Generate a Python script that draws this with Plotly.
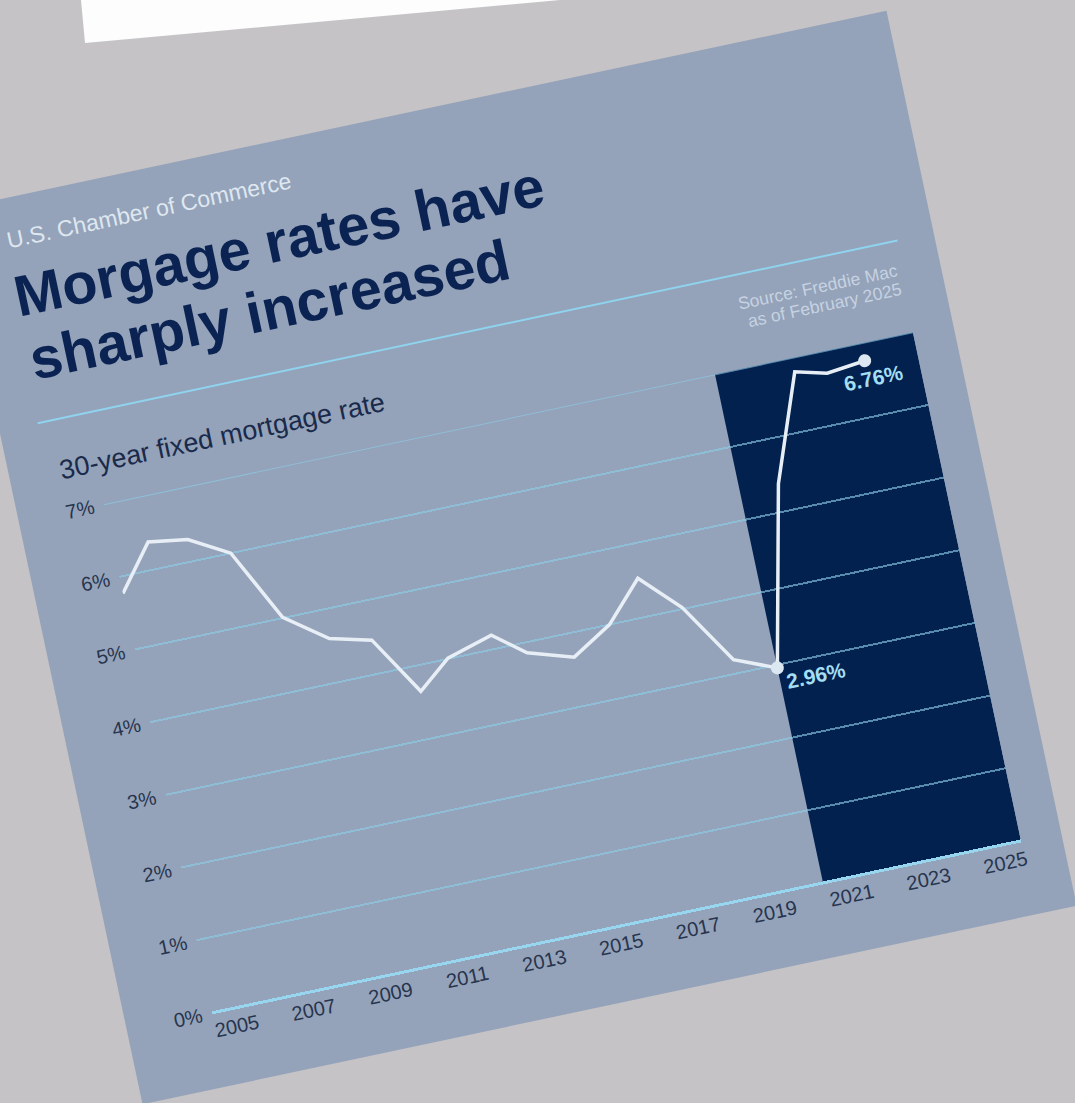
import plotly.graph_objects as go

# ---------------- data ----------------
years = [2004.45, 2005.35, 2006.35, 2007.35, 2008.3, 2009.35, 2010.4, 2011.35,
         2012.2, 2013.4, 2014.2, 2015.35, 2016.4, 2017.35, 2018.3, 2019.3,
         2020.35, 2021.35, 2022.35, 2023.15, 2024.15]
rates = [5.77, 6.38, 6.30, 6.00, 5.01, 4.60, 4.46, 3.65, 4.01, 4.19, 3.86, 3.67,
         4.00, 4.53, 4.02, 3.19, 2.96, 5.38, 6.81, 6.70, 6.76]
callout_index = [16, 20]          # points labelled 2.96% and 6.76%
year_ticks = [2005, 2007, 2009, 2011, 2013, 2015, 2017, 2019, 2021, 2023, 2025]
year_labels = ["2005", "2007", "2009", "2011", "2013", "2015", "2017", "2019",
               "2021", "2023", "2025"]
pct_ticks = [0, 1, 2, 3, 4, 5, 6, 7]
pct_labels = ["0%", "1%", "2%", "3%", "4%", "5%", "6%", "7%"]

publisher = "U.S. Chamber of Commerce"
title_lines = ["Morgage rates have", "sharply increased"]
subtitle = "30-year fixed mortgage rate"
source_lines = ["Source: Freddie Mac", "as of February 2025"]

# ---------------- layout geometry ----------------
W, H = 955, 915
L, R, T, B = 87, 41, 320, 75
PW, PH = W - L - R, H - T - B
X_RANGE = [2004.45, 2025.5]
Y_RANGE = [0, 7]

FONT = "Liberation Sans, Arial, sans-serif"
CARD = "#94a3b9"
NAVY = "#03214f"
TITLE_NAVY = "#0b2352"
AXIS_TXT = "#27344e"
GRID = "rgba(140,205,232,0.62)"


def px(x):
    return (x - L) / PW


def py(y):
    return (H - B - y) / PH


fig = go.Figure()

fig.add_trace(go.Scatter(
    x=years, y=rates, mode="lines",
    line=dict(color="#e8eef6", width=3.5),
    hoverinfo="skip", showlegend=False))

fig.add_trace(go.Scatter(
    x=[years[i] for i in callout_index], y=[rates[i] for i in callout_index],
    mode="markers", marker=dict(size=13, color="#dce8f1"),
    hoverinfo="skip", showlegend=False))

annotations = []
offsets = {16: (36, -15), 20: (5, -19)}
for i in callout_index:
    dx, dy = offsets[i]
    annotations.append(dict(
        x=years[i], y=rates[i], xref="x", yref="y", text=f"{rates[i]:.2f}%",
        showarrow=False, xanchor="center", yanchor="middle", xshift=dx, yshift=dy,
        font=dict(family=FONT, size=21, color="#a3def3", weight="bold")))


def text_ann(text, x, y, size, color, anchor="left", bold=False):
    annotations.append(dict(
        x=px(x), y=py(y), xref="paper", yref="paper", text=text, showarrow=False,
        xanchor=anchor, yanchor="middle",
        font=dict(family=FONT, size=size, color=color,
                  weight="bold" if bold else "normal")))


text_ann(publisher, 45, 42, 23, "#dfe7f0")
text_ann(title_lines[0], 41, 99, 57.5, TITLE_NAVY, bold=True)
text_ann(title_lines[1], 43, 164, 57.5, TITLE_NAVY, bold=True)
text_ann(subtitle, 49, 277.5, 27, "#1a2a4b")
text_ann(source_lines[0], 914, 256, 17.5, "#c6d2e2", anchor="right")
text_ann(source_lines[1], 914, 275, 17.5, "#c6d2e2", anchor="right")

shapes = [
    dict(type="rect", xref="x", yref="y", x0=years[callout_index[0]], x1=X_RANGE[1],
         y0=Y_RANGE[0], y1=Y_RANGE[1], fillcolor=NAVY, line=dict(width=0), layer="below"),
    dict(type="line", xref="paper", yref="y", x0=0, x1=1,
         y0=pct_ticks[-1], y1=pct_ticks[-1], line=dict(color=GRID, width=2)),
    dict(type="line", xref="paper", yref="paper", x0=px(39), x1=px(918),
         y0=py(227), y1=py(227), line=dict(color="#8fd3ee", width=2)),
]

fig.update_layout(
    width=W, height=H,
    margin=dict(l=L, r=R, t=T, b=B, pad=0),
    paper_bgcolor=CARD, plot_bgcolor=CARD,
    font=dict(family=FONT),
    annotations=annotations, shapes=shapes,
    xaxis=dict(range=X_RANGE, tickmode="array", tickvals=year_ticks, ticktext=year_labels,
               showgrid=False, zeroline=False, showline=False, ticks="",
               tickfont=dict(family=FONT, size=20, color=AXIS_TXT),
               ticklabelstandoff=4, fixedrange=True),
    yaxis=dict(range=Y_RANGE, tickmode="array", tickvals=pct_ticks, ticktext=pct_labels,
               showgrid=True, gridcolor=GRID, gridwidth=2,
               zeroline=True, zerolinecolor="#98d6ef", zerolinewidth=3,
               showline=False, ticks="",
               tickfont=dict(family=FONT, size=20, color=AXIS_TXT),
               ticklabelstandoff=9, fixedrange=True),
)

post_js = """
var gd = document.getElementById('{plot_id}');
var bg = '#c5c3c6';
document.documentElement.style.margin = '0';
document.documentElement.style.overflow = 'hidden';
document.documentElement.style.background = bg;
document.body.style.margin = '0';
document.body.style.overflow = 'hidden';
document.body.style.background = bg;
gd.style.position = 'absolute';
gd.style.left = '36.75px';
gd.style.top = '100px';
gd.style.transformOrigin = '50% 50%';
gd.style.transform = 'rotate(-12deg)';
var paper = document.createElement('div');
paper.style.cssText = 'position:absolute;left:0;top:0;width:600px;height:50px;' +
  'background:#fdfdfd;clip-path:polygon(81px 0px, 560px 0px, 85px 43px);';
document.body.appendChild(paper);
"""

fig.write_html("out.html", include_plotlyjs=True,
               config={"displayModeBar": False, "staticPlot": True},
               post_script=post_js)
